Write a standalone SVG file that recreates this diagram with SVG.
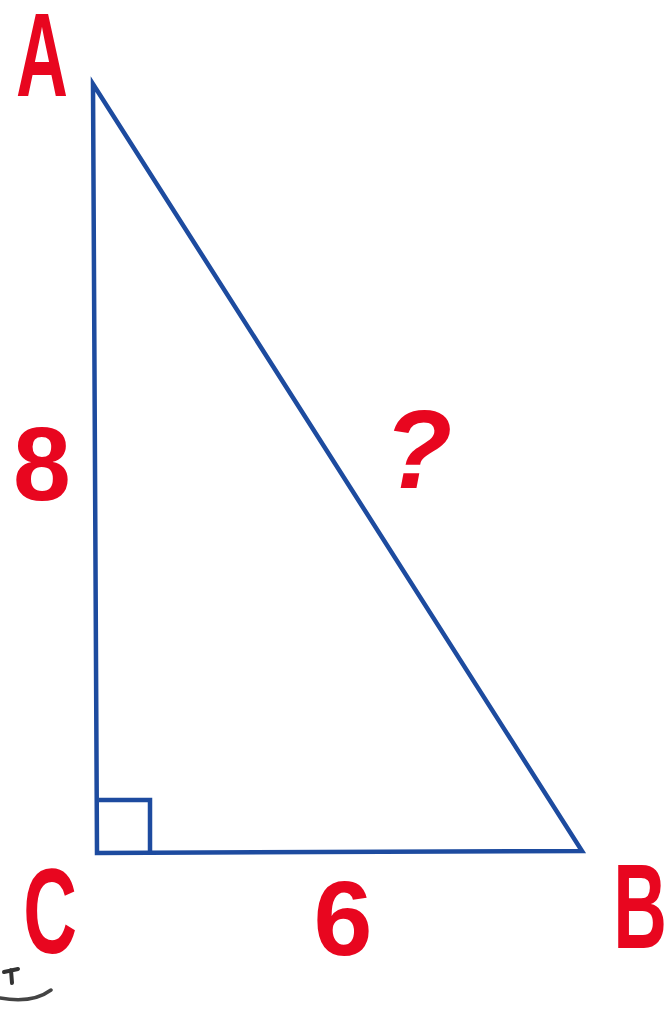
<svg xmlns="http://www.w3.org/2000/svg" width="669" height="1011" viewBox="0 0 669 1011">
<style>
.lbl{font-family:"Liberation Sans",Arial,sans-serif;font-weight:bold;fill:#e8061f;text-anchor:middle}
.edge{fill:none;stroke:#1d4b9f;stroke-width:4.5;stroke-linejoin:miter}
</style>
<rect width="669" height="1011" fill="#ffffff"/>
<g id="connectors">
<path class="edge" d="M93,84 L97,853 L582,851 Z"/>
<path class="edge" d="M99,800 L150,800 L150,853"/>
</g>
<g id="nodeA"><text class="lbl" font-size="118" transform="translate(42,96) scale(0.61,1)">A</text></g>
<g id="nodeC"><text class="lbl" font-size="120" transform="translate(50,953) scale(0.62,1)">C</text></g>
<g id="nodeB"><text class="lbl" font-size="120" transform="translate(640,948) scale(0.62,1)">B</text></g>
<g id="label8"><text class="lbl" font-size="104" x="42" y="500">8</text></g>
<g id="label6"><text class="lbl" font-size="106" x="343" y="955">6</text></g>
<g id="labelQ"><text class="lbl" font-size="112" font-style="italic" x="418" y="488">?</text></g>
<g id="artifact">
<path d="M0,998 Q32,1004 51,990" fill="none" stroke="#444" stroke-width="3.5" stroke-linecap="round"/>
<path d="M4,972 L18,969 M11,970 L12,983" fill="none" stroke="#333" stroke-width="4" stroke-linecap="round"/>
</g>
</svg>
